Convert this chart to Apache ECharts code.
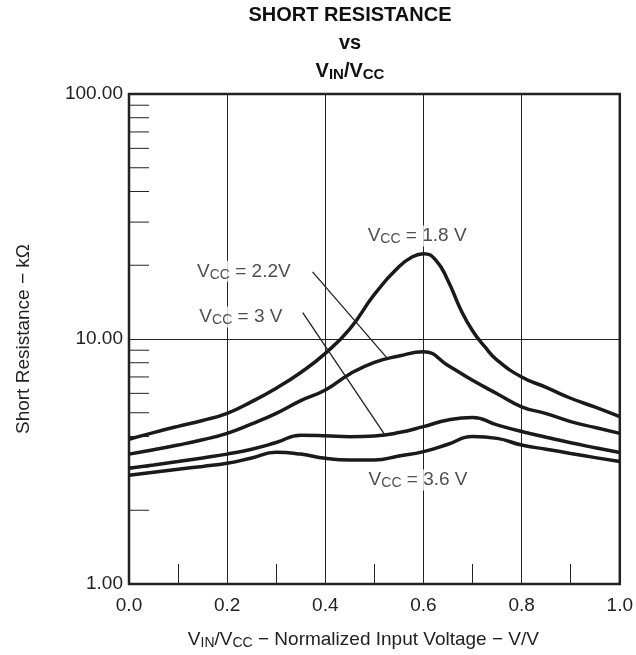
<!DOCTYPE html>
<html>
<head>
<meta charset="utf-8">
<script src="https://cdn.jsdelivr.net/npm/echarts@6/dist/echarts.min.js"></script>
<style>
  html, body { margin: 0; padding: 0; background: #fff; }
  #chart { width: 636px; height: 655px; }
</style>
</head>
<body>
<div id="chart"></div>
<script>
// normalized input voltage samples
var ratios = [0, 0.05, 0.1, 0.15, 0.2, 0.25, 0.3, 0.35, 0.4, 0.45, 0.5,
  0.55, 0.6, 0.65, 0.7, 0.75, 0.8, 0.85, 0.9, 0.95, 1.0];
// the 1.8 V curve is read more finely round its peak
var ratios18 = [0, 0.05, 0.1, 0.15, 0.2, 0.25, 0.3, 0.35, 0.4, 0.45, 0.5,
  0.55, 0.575, 0.6, 0.625, 0.65, 0.675, 0.7, 0.725, 0.75, 0.8, 0.85, 0.9, 0.95, 1.0];

// short resistance, kOhm
var vcc18 = [3.9, 4.15, 4.4, 4.65, 4.97, 5.55, 6.3, 7.3, 8.74, 11.0, 15.2,
  19.7, 21.5, 22.3, 21.0, 17.3, 13.3, 10.8, 9.3, 8.2, 7.0, 6.35, 5.73, 5.27, 4.82];
var vcc22 = [3.39, 3.53, 3.69, 3.88, 4.12, 4.5, 4.97, 5.6, 6.19, 7.2, 8.03,
  8.52, 8.87, 7.8, 6.78, 5.98, 5.29, 4.96, 4.6, 4.35, 4.12];
var vcc30 = [2.97, 3.06, 3.16, 3.27, 3.39, 3.55, 3.78, 4.05, 4.03, 3.99, 4.02,
  4.15, 4.39, 4.67, 4.78, 4.46, 4.19, 3.97, 3.77, 3.6, 3.44];
var vcc36 = [2.78, 2.86, 2.94, 3.02, 3.11, 3.27, 3.45, 3.39, 3.26, 3.21, 3.21,
  3.33, 3.47, 3.72, 4.0, 3.93, 3.69, 3.55, 3.41, 3.28, 3.16];

// minor ticks on the log axis
var yMinorTicks = [2, 3, 4, 5, 6, 7, 8, 9, 20, 30, 40, 50, 60, 70, 80, 90];

// curve labels: [x, y, vcc text]
var curveLabels = [
  [0.587, 26.3, "1.8 V"],
  [0.234, 18.9, "2.2V"],
  [0.228, 12.3, "3 V"],
  [0.589, 2.66, "3.6 V"]
];
// leader lines: [[x1, y1], [x2, y2]]
var leaders = [
  [[0.374, 18.8], [0.526, 8.36]],
  [[0.354, 12.8], [0.520, 4.1]]
];

var FONT = "'Liberation Sans', Arial, sans-serif";
var INK = "#222";

function pairs(xs, ys) {
  return xs.map(function (x, i) { return [x, ys[i]]; });
}

function curve(name, xs, ys) {
  return {
    name: name,
    type: "line",
    data: pairs(xs, ys),
    smooth: 0.5,
    showSymbol: false,
    lineStyle: { color: "#1a1a1a", width: 3.5 },
    z: 3
  };
}

var chart = echarts.init(document.getElementById("chart"));

chart.setOption({
  animation: false,
  backgroundColor: "#fff",
  textStyle: { fontFamily: FONT, color: INK },
  title: {
    text: "{b|SHORT RESISTANCE}\n{b|vs}\n{b|V}{s|IN}{b|/V}{s|CC}",
    left: 345,
    top: -4,
    textAlign: "center",
    textStyle: {
      fontFamily: FONT,
      lineHeight: 28,
      rich: {
        b: { fontSize: 20, fontWeight: "bold", color: "#111", fontFamily: FONT },
        s: { fontSize: 15, fontWeight: "bold", color: "#111", fontFamily: FONT, padding: [8, 0, 0, 0] }
      }
    }
  },
  grid: {
    left: 129,
    right: 14,
    top: 94,
    bottom: 71,
    show: true,
    borderColor: INK,
    borderWidth: 2.5,
    backgroundColor: "transparent"
  },
  xAxis: [
    {
      type: "value",
      min: 0,
      max: 1,
      interval: 0.2,
      name: "{v|V}{s|IN}{v|/V}{s|CC}{v| − Normalized Input Voltage − V/V}",
      nameLocation: "middle",
      nameGap: 45,
      nameTextStyle: {
        padding: [0, 22, 0, 0],
        rich: {
          v: { fontSize: 19, color: INK, fontFamily: FONT },
          s: { fontSize: 14, color: INK, fontFamily: FONT, padding: [7, 0, 0, 0] }
        }
      },
      axisLine: { show: false },
      axisTick: { show: false },
      axisLabel: {
        fontSize: 19,
        color: INK,
        margin: 12,
        formatter: function (v) { return v.toFixed(1); }
      },
      splitLine: { show: true, lineStyle: { color: INK, width: 1 } }
    },
    {
      type: "value",
      min: 0,
      max: 1,
      interval: 0.1,
      position: "bottom",
      axisLine: { show: false },
      axisLabel: { show: false },
      axisTick: { show: true, inside: true, length: 20, lineStyle: { color: INK, width: 1 } },
      splitLine: { show: false }
    }
  ],
  yAxis: {
    type: "log",
    logBase: 10,
    min: 1,
    max: 100,
    splitNumber: 2,
    name: "Short Resistance − kΩ",
    nameLocation: "middle",
    nameGap: 96,
    nameTextStyle: { fontSize: 19, color: INK, fontFamily: FONT },
    axisLine: { show: false },
    axisTick: { show: false },
    axisLabel: {
      fontSize: 19,
      color: INK,
      margin: 6,
      formatter: function (v) { return v.toFixed(2); }
    },
    splitLine: { show: true, lineStyle: { color: INK, width: 1 } }
  },
  series: [
    curve("VCC = 1.8 V", ratios18, vcc18),
    curve("VCC = 2.2 V", ratios, vcc22),
    curve("VCC = 3 V", ratios, vcc30),
    curve("VCC = 3.6 V", ratios, vcc36),
    {
      name: "minor ticks",
      type: "custom",
      silent: true,
      clip: false,
      data: yMinorTicks.map(function (v) { return [0, v]; }),
      renderItem: function (params, api) {
        var p = api.coord([0, api.value(1)]);
        return {
          type: "line",
          shape: { x1: p[0], y1: p[1], x2: p[0] + 20, y2: p[1] },
          style: { stroke: INK, lineWidth: 1 }
        };
      },
      z: 2
    },
    {
      name: "labels",
      type: "scatter",
      symbolSize: 0,
      silent: true,
      data: curveLabels,
      label: {
        show: true,
        position: "inside",
        backgroundColor: "#fff",
        padding: [0, 2],
        formatter: function (p) {
          return "{v|V}{s|CC}{v| = " + p.data[2] + "}";
        },
        rich: {
          v: { fontSize: 19, color: INK, fontFamily: FONT },
          s: { fontSize: 14, color: INK, fontFamily: FONT, padding: [7, 0, 0, 0] }
        }
      },
      markLine: {
        silent: true,
        symbol: "none",
        label: { show: false },
        lineStyle: { color: INK, width: 1.3, type: "solid" },
        data: leaders.map(function (l) {
          return [{ coord: l[0] }, { coord: l[1] }];
        })
      },
      z: 5
    }
  ]
});
</script>
</body>
</html>
